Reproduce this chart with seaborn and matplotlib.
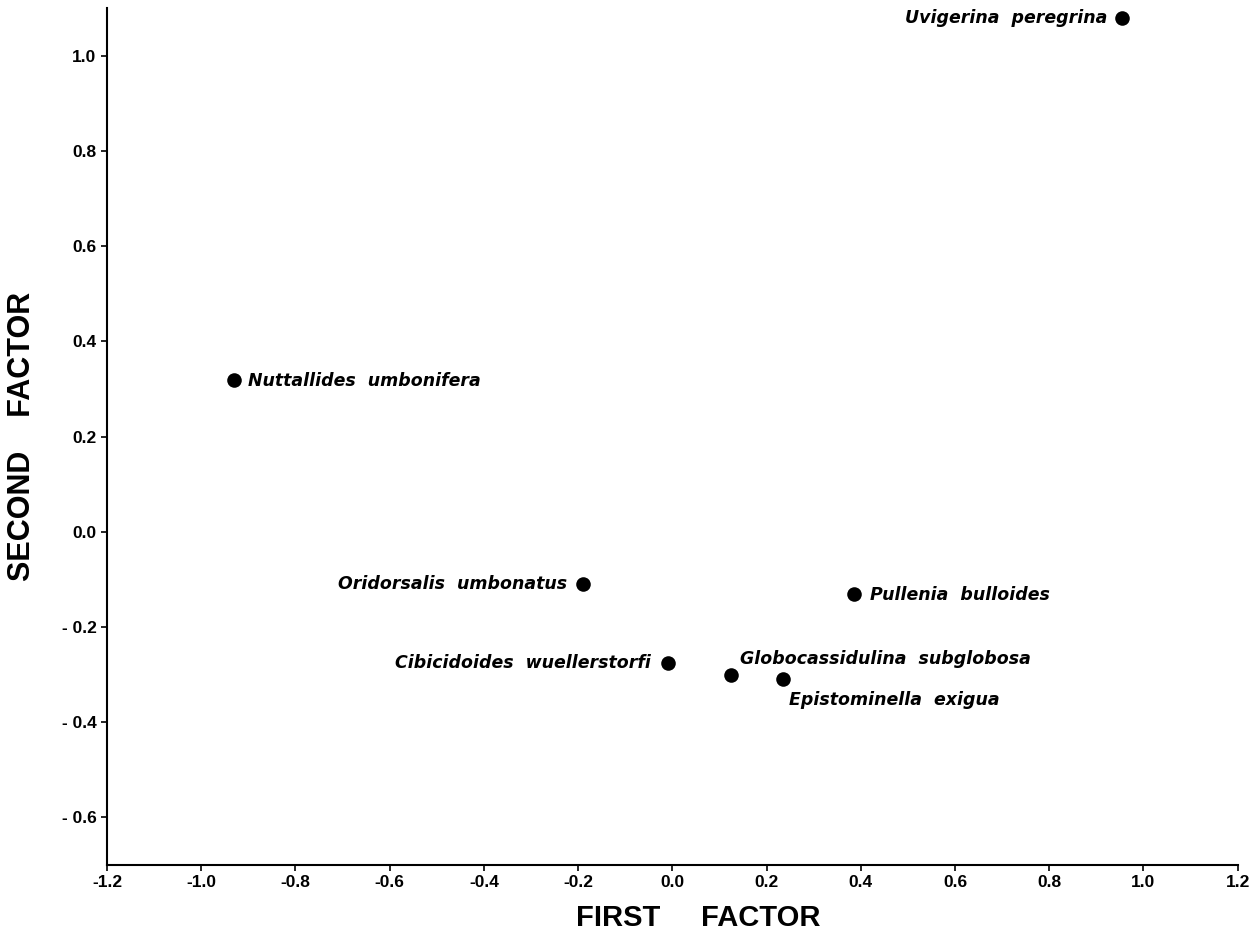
import matplotlib
matplotlib.use("Agg")
import matplotlib.pyplot as plt
import seaborn as sns
import numpy as np
import pandas as pd

sns.set_style("ticks")
plt.rcParams['font.family'] = ['Liberation Sans', 'DejaVu Sans']
plt.rcParams['text.color'] = 'black'
plt.rcParams['axes.labelcolor'] = 'black'
plt.rcParams['xtick.color'] = 'black'
plt.rcParams['ytick.color'] = 'black'

# Factor loadings
species = ["Uvigerina  peregrina", "Nuttallides  umbonifera", "Oridorsalis  umbonatus",
           "Pullenia  bulloides", "Cibicidoides  wuellerstorfi",
           "Globocassidulina  subglobosa", "Epistominella  exigua"]
first = [0.955, -0.93, -0.19, 0.385, -0.01, 0.125, 0.235]
second = [1.08, 0.32, -0.11, -0.13, -0.275, -0.30, -0.31]

# label placement: (ha, dx points, dy points)
place = {"Uvigerina  peregrina": ("right", -11, 0),
         "Nuttallides  umbonifera": ("left", 10, -1),
         "Oridorsalis  umbonatus": ("right", -11, 0),
         "Pullenia  bulloides": ("left", 12, -1),
         "Cibicidoides  wuellerstorfi": ("right", -12, 0),
         "Globocassidulina  subglobosa": ("left", 6, 11),
         "Epistominella  exigua": ("left", 4, -15)}

df = pd.DataFrame({"species": species, "first": first, "second": second})

fig = plt.figure(figsize=(12.59, 9.4), dpi=100)
ax = fig.add_axes([0.085, 0.080, 0.898, 0.911])

sns.scatterplot(data=df, x="first", y="second", color="black", s=110,
                edgecolor="black", linewidth=0, ax=ax, legend=False)

for _, r in df.iterrows():
    ha, dx, dy = place[r["species"]]
    ax.annotate(r["species"], (r["first"], r["second"]), xytext=(dx, dy),
                textcoords="offset points", ha=ha, va="center", color="black",
                fontsize=12.5, fontweight="bold", fontstyle="italic",
                family=["DejaVu Sans"])

ax.set_xlim(-1.2, 1.2)
ax.set_ylim(-0.7, 1.1)
xt = np.arange(-1.2, 1.21, 0.2)
ax.set_xticks(xt)
ax.set_xticklabels(["%.1f" % v if abs(v) > 1e-9 else "0.0" for v in xt])
yt = np.arange(-0.6, 1.01, 0.2)
ax.set_yticks(yt)
ax.set_yticklabels([("- %.1f" % -v) if v < -1e-9 else "%.1f" % abs(v) for v in yt])
ax.tick_params(axis="both", length=4, width=1.2, labelsize=12.5,
               color="black", labelcolor="black")
for lab in ax.get_xticklabels() + ax.get_yticklabels():
    lab.set_fontweight("bold")

sns.despine(ax=ax)
for sp in ["left", "bottom"]:
    ax.spines[sp].set_linewidth(1.5)
    ax.spines[sp].set_color("black")

ax.set_xlabel("FIRST     FACTOR", fontsize=21, fontweight="bold", color="black")
ax.xaxis.set_label_coords(0.523, -0.046)
ax.set_ylabel("SECOND    FACTOR", fontsize=22, fontweight="bold", labelpad=18,
              color="black")

plt.savefig("out.png", dpi=100)
